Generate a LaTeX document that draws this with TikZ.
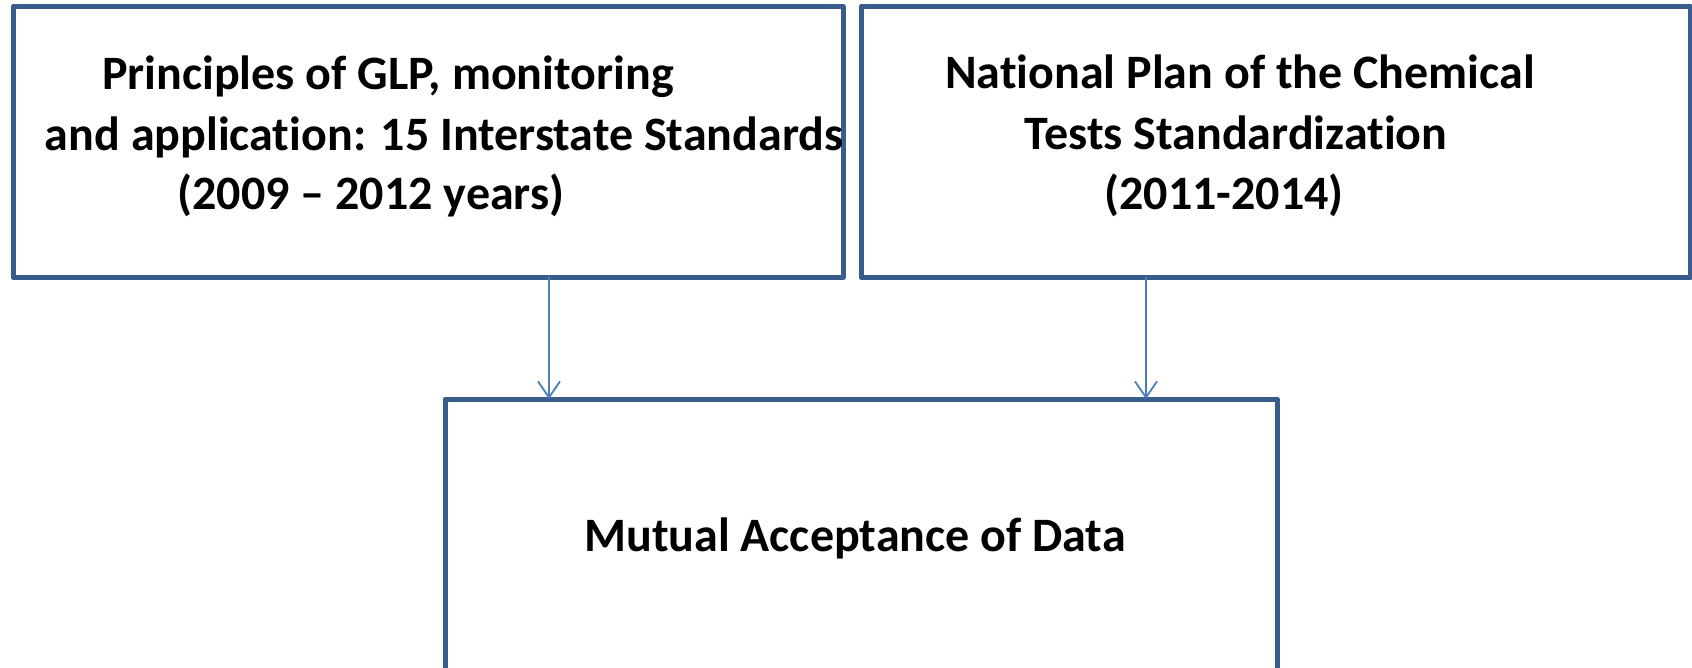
\documentclass[tikz,border=0pt]{standalone}
\usepackage{fontspec}
\setmainfont{Carlito}[Ligatures=NoCommon]
\usetikzlibrary{arrows.meta}
\definecolor{boxblue}{HTML}{385D8A}
\definecolor{arrowblue}{HTML}{4A7EBB}
\tikzset{
  frame/.style={draw=boxblue, line width=5pt, line join=round, inner sep=0pt, outer sep=0pt, fill=white},
  txt/.style={inner sep=0pt, anchor=base, font=\fontsize{48}{58}\selectfont\bfseries},
  conn/.style={draw=arrowblue, line width=1.8pt, -{Straight Barb[length=16pt,width=22pt,line width=1.8pt]}}
}
\begin{document}
\begin{tikzpicture}[x=1pt,y=1pt]
\useasboundingbox (0,0) rectangle (1692,-668);
\clip (0,0) rectangle (1692,-668);
\node[frame, minimum width=830pt, minimum height=271pt] (L) at (428,-142) {};
\node[frame, minimum width=829pt, minimum height=271pt] (R) at (1275.5,-142) {};
\node[frame, minimum width=832pt, minimum height=330pt] (M) at (861,-564) {};
\node[txt] (l1) at (388,-90) {Principles of GLP, monitoring};
\node[txt] (l2) at (444,-151) {and application: 15 Interstate Standards};
\node[txt] (l3) at (371,-210) {(2009 -- 2012 years)};
\node[txt] (r1) at (1240,-89) {National Plan of the Chemical};
\node[txt] (r2) at (1236,-150) {Tests Standardization};
\node[txt] (r3) at (1224,-210) {(2011-2014)};
\node[txt] (m1) at (855,-551) {Mutual Acceptance of Data};
\coordinate (c1) at (549,0);
\coordinate (c2) at (1146,0);
\draw[conn] (L.south -| c1) -- (M.north -| c1);
\draw[conn] (R.south -| c2) -- (M.north -| c2);
\end{tikzpicture}
\end{document}
